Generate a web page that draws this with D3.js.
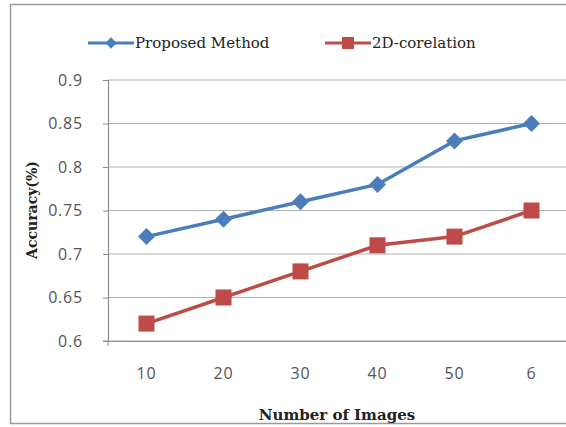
<!DOCTYPE html>
<html><head><meta charset="utf-8">
<script src="https://cdn.jsdelivr.net/npm/d3@7"></script>
<style>body{margin:0;background:#fff}svg{display:block}</style>
</head><body>
<script>
const categories = ["10","20","30","40","50","6"];
const proposed = [0.72,0.74,0.76,0.78,0.83,0.85];
const corel = [0.62,0.65,0.68,0.71,0.72,0.75];
const yTicks = [0.6,0.65,0.7,0.75,0.8,0.85,0.9];
const seriesNames = ["Proposed Method","2D-corelation"];

const W=566,H=427;
const svg=d3.select("body").append("svg").attr("width",W).attr("height",H);
svg.append("rect").attr("x",10.5).attr("y",4.5).attr("width",570).attr("height",419)
  .attr("fill","#fff").attr("stroke","#9a9a9a").attr("stroke-width",1.5);

const L=108,R=570,T=80,B=341;
const x=d3.scaleBand().domain(categories).range([L,R]);
const y=d3.scaleLinear().domain([0.6,0.9]).range([B,T]);

const g=svg.append("g");
g.selectAll(".grid").data(yTicks).join("line")
  .attr("x1",L).attr("x2",R).attr("y1",d=>y(d)).attr("y2",d=>y(d))
  .attr("stroke","#b0b0b0").attr("stroke-width",1.2);
const ya=g.append("g").attr("transform",`translate(${L},0)`)
  .call(d3.axisLeft(y).tickValues(yTicks).tickSize(5).tickPadding(20).tickFormat(d=>String(+d.toFixed(2))));
ya.select(".domain").attr("stroke","#8c8c8c").attr("stroke-width",1.2);
ya.selectAll(".tick line").attr("stroke","#8c8c8c");
ya.selectAll("text").attr("font-family","Open Sans, sans-serif").attr("font-size",16).attr("letter-spacing","0.8px").attr("fill","#555");
const xa=g.append("g").attr("transform",`translate(0,${B})`)
  .call(d3.axisBottom(x).tickSize(0).tickPadding(27));
xa.select(".domain").attr("stroke","#8c8c8c").attr("stroke-width",1.2);
xa.selectAll("text").attr("font-family","Open Sans, sans-serif").attr("font-size",16).attr("letter-spacing","0.8px").attr("fill","#555");
g.append("line").attr("x1",L-5).attr("x2",L).attr("y1",B).attr("y2",B).attr("stroke","#8c8c8c");
g.append("line").attr("x1",L).attr("x2",L).attr("y1",B).attr("y2",B+5).attr("stroke","#8c8c8c");

const cx=d=>x(d)+x.bandwidth()/2;
const line=d3.line().x((d,i)=>cx(categories[i])).y(d=>y(d));
const blue="#4A7EBB", red="#BE4B48";
g.append("path").datum(proposed).attr("d",line).attr("fill","none").attr("stroke",blue).attr("stroke-width",3.5);
g.append("path").datum(corel).attr("d",line).attr("fill","none").attr("stroke",red).attr("stroke-width",3.5);
g.selectAll(".pm").data(proposed).join("rect")
  .attr("x",-6).attr("y",-6).attr("width",12).attr("height",12)
  .attr("transform",(d,i)=>`translate(${cx(categories[i])},${y(d)}) rotate(45)`).attr("fill",blue);
g.selectAll(".cm").data(corel).join("rect")
  .attr("x",(d,i)=>cx(categories[i])-8).attr("y",d=>y(d)-8).attr("width",16).attr("height",16).attr("fill",red);

const lg=svg.append("g");
lg.append("line").attr("x1",88).attr("x2",134).attr("y1",43).attr("y2",43).attr("stroke",blue).attr("stroke-width",3);
lg.append("rect").attr("x",-4).attr("y",-4).attr("width",8).attr("height",8).attr("transform","translate(111,43) rotate(45)").attr("fill",blue);
lg.append("text").attr("x",135).attr("y",48).text(seriesNames[0]).attr("font-family","DejaVu Serif, serif").attr("font-size",15).attr("fill","#222");
lg.append("line").attr("x1",325).attr("x2",371).attr("y1",43).attr("y2",43).attr("stroke",red).attr("stroke-width",3);
lg.append("rect").attr("x",342).attr("y",37).attr("width",12).attr("height",12).attr("fill",red);
lg.append("text").attr("x",372).attr("y",48).text(seriesNames[1]).attr("font-family","DejaVu Serif, serif").attr("font-size",15).attr("fill","#222");

svg.append("text").attr("transform","translate(37,210) rotate(-90)").attr("text-anchor","middle")
  .attr("font-family","DejaVu Serif, serif").attr("font-weight","bold").attr("font-size",14).attr("fill","#222").text("Accuracy(%)");
svg.append("text").attr("x",337).attr("y",420).attr("text-anchor","middle")
  .attr("font-family","DejaVu Serif, serif").attr("font-weight","bold").attr("font-size",15).attr("fill","#222").text("Number of Images");
</script>
</body></html>
